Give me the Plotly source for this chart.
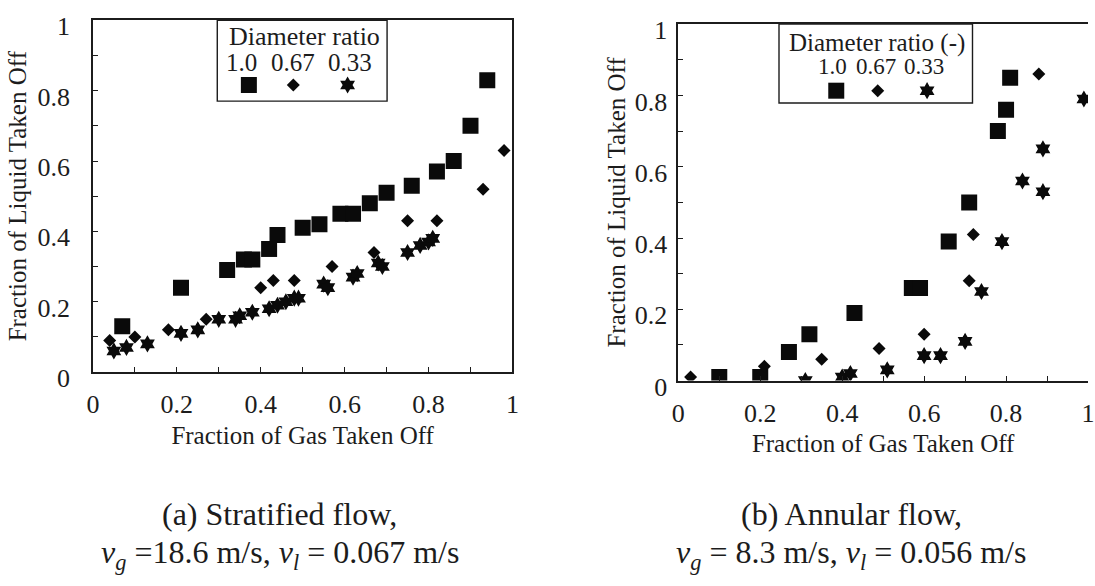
import plotly.graph_objects as go

W, H = 1095, 586
SERIF = "Liberation Serif"
INK = "#1c1c1c"

# ---- (a) Stratified flow: fraction of gas vs fraction of liquid taken off ----
a_x_10 = [0.07, 0.21, 0.32, 0.36, 0.38, 0.42, 0.44, 0.50, 0.54, 0.59, 0.62, 0.66, 0.70, 0.76, 0.82, 0.86, 0.90, 0.94]
a_y_10 = [0.13, 0.24, 0.29, 0.32, 0.32, 0.35, 0.39, 0.41, 0.42, 0.45, 0.45, 0.48, 0.51, 0.53, 0.57, 0.60, 0.70, 0.83]
a_x_067 = [0.04, 0.10, 0.18, 0.27, 0.40, 0.43, 0.48, 0.57, 0.67, 0.75, 0.82, 0.93, 0.98]
a_y_067 = [0.09, 0.10, 0.12, 0.15, 0.24, 0.26, 0.26, 0.30, 0.34, 0.43, 0.43, 0.52, 0.63]
a_x_033 = [0.05, 0.08, 0.13, 0.21, 0.25, 0.30, 0.34, 0.35, 0.38, 0.42, 0.44, 0.46, 0.48, 0.49,
           0.55, 0.56, 0.62, 0.63, 0.68, 0.69, 0.75, 0.78, 0.80, 0.81]
a_y_033 = [0.06, 0.07, 0.08, 0.11, 0.12, 0.15, 0.15, 0.16, 0.17, 0.18, 0.19, 0.20, 0.21, 0.21,
           0.25, 0.24, 0.27, 0.28, 0.31, 0.30, 0.34, 0.36, 0.37, 0.38]

# ---- (b) Annular flow ----
b_x_10 = [0.10, 0.20, 0.27, 0.32, 0.43, 0.57, 0.59, 0.66, 0.71, 0.78, 0.80, 0.81]
b_y_10 = [0.01, 0.01, 0.08, 0.13, 0.19, 0.26, 0.26, 0.39, 0.50, 0.70, 0.76, 0.85]
b_x_067 = [0.03, 0.21, 0.35, 0.49, 0.60, 0.71, 0.72, 0.88]
b_y_067 = [0.01, 0.04, 0.06, 0.09, 0.13, 0.28, 0.41, 0.86]
b_x_033 = [0.31, 0.40, 0.42, 0.51, 0.60, 0.64, 0.70, 0.74, 0.79, 0.84, 0.89, 0.89, 0.99]
b_y_033 = [0.00, 0.01, 0.02, 0.03, 0.07, 0.07, 0.11, 0.25, 0.39, 0.56, 0.65, 0.53, 0.79]

ratio_labels = ["1.0", "0.67", "0.33"]
symbols = ["square", "diamond", "hexagram"]
sizes = [16, 10, 13]

x_title = "Fraction of Gas Taken Off"
y_title = "Fraction of Liquid Taken Off"
cap_a = ["(a) Stratified flow,",
         "<i>v</i><sub><i>g</i></sub> =18.6 m/s, <i>v</i><sub><i>l</i></sub> = 0.067 m/s"]
cap_b = ["(b) Annular flow,",
         "<i>v</i><sub><i>g</i></sub> = 8.3 m/s, <i>v</i><sub><i>l</i></sub> = 0.056 m/s"]


def px(x):
    return x / W


def py(y):
    return 1 - y / H


fig = go.Figure()

series_a = [(a_x_10, a_y_10), (a_x_067, a_y_067), (a_x_033, a_y_033)]
series_b = [(b_x_10, b_y_10), (b_x_067, b_y_067), (b_x_033, b_y_033)]

for (xs, ys), sym, sz, lab in zip(series_a, symbols, sizes, ratio_labels):
    fig.add_trace(go.Scatter(x=xs, y=ys, mode="markers", name=lab, showlegend=False,
                             marker=dict(symbol=sym, size=sz, color="#0a0a0a"),
                             xaxis="x", yaxis="y"))
for (xs, ys), sym, sz, lab in zip(series_b, symbols, sizes, ratio_labels):
    fig.add_trace(go.Scatter(x=xs, y=ys, mode="markers", name=lab, showlegend=False,
                             marker=dict(symbol=sym, size=sz, color="#0a0a0a"),
                             xaxis="x2", yaxis="y2"))

# legend keys drawn on a pixel-space overlay axis
key_a_x = [245, 290, 345]
key_b_x = [840, 882, 932]
for kx_list, ky in ((key_a_x, 81), (key_b_x, 87)):
    for kx, sym, sz in zip(kx_list, symbols, sizes):
        fig.add_trace(go.Scatter(x=[kx], y=[ky], mode="markers", showlegend=False,
                                 hoverinfo="skip",
                                 marker=dict(symbol=sym, size=sz, color="#0a0a0a"),
                                 xaxis="x3", yaxis="y3"))

tickfont = dict(family=SERIF, size=26, color=INK)
titlefont = dict(family=SERIF, size=25, color=INK)


def axis(domain, title, mirror, standoff):
    return dict(domain=domain, range=[0, 1], tick0=0, dtick=0.2,
                ticks="inside", ticklen=5, tickwidth=1.2, tickcolor=INK,
                showline=True, linecolor=INK, linewidth=1.6, mirror=mirror,
                showgrid=False, zeroline=False, tickfont=tickfont,
                minor=dict(dtick=0.1, ticks="inside", ticklen=5, tickwidth=1.2,
                           tickcolor=INK, showgrid=False),
                title=dict(text=title, font=titlefont, standoff=standoff))


xa = axis([px(87), px(512)], x_title, True, 8)
ya = axis([py(383), py(13)], y_title, True, 4)
xb = axis([px(680), 1.0], x_title, True, 8)
yb = axis([py(392), py(17)], y_title, False, 2)
ya.update(anchor="x", ticklabelshift=6, ticklabelstandoff=16, ticklabeloverflow="allow")
yb.update(anchor="x2", ticklabelshift=6, ticklabelstandoff=4, ticklabeloverflow="allow")
xa.update(anchor="y", ticklabelstandoff=8)
xb.update(anchor="y2", ticklabelstandoff=8)

shapes = [
    dict(type="rect", xref="paper", yref="paper", x0=px(213), x1=px(385), y0=py(98), y1=py(13),
         line=dict(color=INK, width=1.4)),
    dict(type="rect", xref="paper", yref="paper", x0=px(782), x1=px(978), y0=py(100), y1=py(17),
         line=dict(color=INK, width=1.4)),
]

ann = []


def text(x, y, s, size):
    ann.append(dict(x=px(x), y=py(y), xref="paper", yref="paper", text=s, showarrow=False,
                    xanchor="center", yanchor="middle",
                    font=dict(family=SERIF, size=size, color=INK)))


text(301, 30, "Diameter ratio", 26)
for kx, lab in zip([238, 290, 347], ratio_labels):
    text(kx, 57, lab, 25)
text(881, 37, "Diameter ratio (-)", 25)
for kx, lab in zip([836, 880, 929], ratio_labels):
    text(kx, 62, lab, 23)

text(276, 532, cap_a[0], 32)
text(277, 575, cap_a[1], 32)
text(855, 532, cap_b[0], 32)
text(855, 575, cap_b[1], 32)

fig.update_layout(
    width=W, height=H, margin=dict(l=0, r=0, t=0, b=0),
    paper_bgcolor="white", plot_bgcolor="rgba(0,0,0,0)",
    xaxis=xa, yaxis=ya, xaxis2=xb, yaxis2=yb,
    xaxis3=dict(domain=[0, 1], range=[0, W], visible=False, anchor="y3", fixedrange=True),
    yaxis3=dict(domain=[0, 1], range=[H, 0], visible=False, anchor="x3", fixedrange=True),
    shapes=shapes, annotations=ann,
)

fig.write_html("out.html")
